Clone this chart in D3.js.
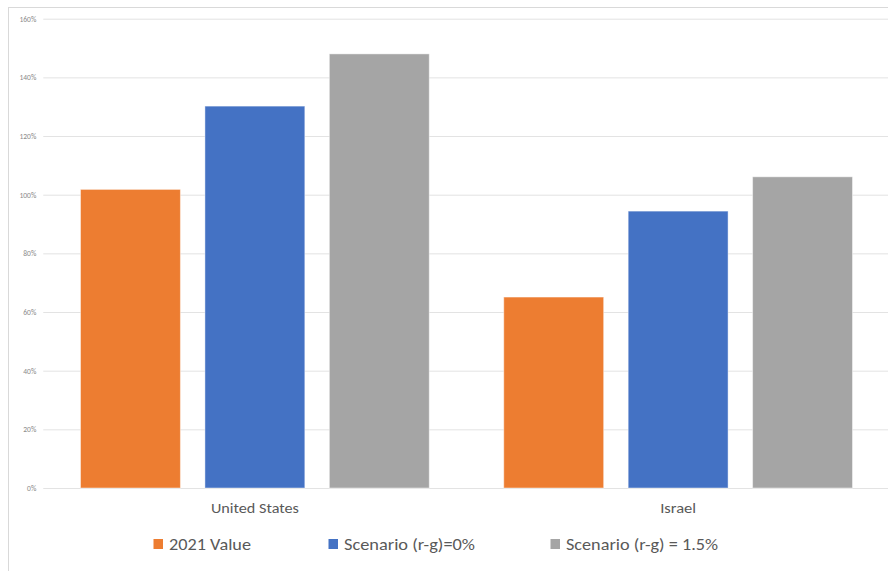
<!DOCTYPE html>
<html>
<head>
<meta charset="utf-8">
<script src="https://cdn.jsdelivr.net/npm/d3@7/dist/d3.min.js"></script>
<style>
  html, body { margin: 0; padding: 0; background: #fff; }
  svg { display: block; }
</style>
</head>
<body>
<svg id="chart" width="888" height="571"></svg>
<script>
// Debt-to-GDP: current value and two projection scenarios
const countries = ["United States", "Israel"];
const seriesNames = ["2021 Value", "Scenario (r-g)=0%", "Scenario (r-g) = 1.5%"];
const seriesColors = ["#ED7D31", "#4472C4", "#A5A5A5"];
const value2021 = [101.8, 65.1];
const scenarioZero = [130.2, 94.4];
const scenarioOneHalf = [148.0, 106.1];
const yTicks = [0, 20, 40, 60, 80, 100, 120, 140, 160];

const seriesValues = [value2021, scenarioZero, scenarioOneHalf];
const rows = [];
countries.forEach((c, ci) => {
  seriesNames.forEach((s, si) => rows.push({ country: c, series: s, si, value: seriesValues[si][ci] }));
});

const svg = d3.select("#chart");
const font = "Calibri, Carlito, Lato, 'Open Sans', 'Liberation Sans', sans-serif";

// chart frame (runs off the right and bottom edges)
svg.append("rect")
  .attr("x", 8.5).attr("y", 7.5)
  .attr("width", 900).attr("height", 600)
  .attr("fill", "#fff").attr("stroke", "#d9d9d9").attr("stroke-width", 1);

const plot = { left: 43.25, right: 889.75, top: 18.7, bottom: 488 };

const x = d3.scaleBand().domain(countries).range([plot.left, plot.right]).paddingInner(0).paddingOuter(0);
const xInner = d3.scaleBand().domain(seriesNames)
  .range([37.25, x.bandwidth() - 37.25]).paddingInner(0.197).paddingOuter(0);
const y = d3.scaleLinear().domain([0, 160]).range([plot.bottom, plot.top]);

// gridlines and tick labels
const yAxis = d3.axisLeft(y).tickValues(yTicks).tickFormat(d => d + "%")
  .tickSize(-(plot.right - plot.left + 10)).tickPadding(7);
const gy = svg.append("g").attr("transform", `translate(${plot.left},0)`).call(yAxis);
gy.select(".domain").remove();
gy.selectAll(".tick line").attr("stroke", "#e3e3e3").attr("stroke-width", 1);
gy.selectAll(".tick text")
  .attr("fill", "#8a8a8a").attr("font-size", 7.5).attr("font-family", font);

// bars
svg.append("g").selectAll("rect").data(rows).join("rect")
  .attr("x", d => x(d.country) + xInner(d.series))
  .attr("y", d => y(d.value))
  .attr("width", xInner.bandwidth())
  .attr("height", d => y(0) - y(d.value))
  .attr("fill", d => seriesColors[d.si])
  .attr("stroke", "#ffffff").attr("stroke-opacity", 0.45).attr("stroke-width", 1);

// category labels
const catWidths = [88, 36];
const xAxis = d3.axisBottom(x).tickSize(0).tickPadding(14);
const gx = svg.append("g").attr("transform", `translate(0,${plot.bottom})`).call(xAxis);
gx.select(".domain").remove();
gx.selectAll(".tick text")
  .attr("fill", "#595959").attr("font-size", 15).attr("font-family", font)
  .attr("textLength", (d, i) => catWidths[i]).attr("lengthAdjust", "spacingAndGlyphs");

// legend
const legendX = [153.5, 328.5, 550.5];
const legendWidths = [82, 131, 152];
const legend = svg.append("g").selectAll("g").data(seriesNames).join("g")
  .attr("transform", (d, i) => `translate(${legendX[i]},544)`);
legend.append("rect")
  .attr("x", 0).attr("y", -5).attr("width", 9.5).attr("height", 10)
  .attr("fill", (d, i) => seriesColors[i]);
legend.append("text")
  .attr("x", 15.5).attr("y", 0).attr("dy", "0.35em")
  .attr("fill", "#595959").attr("font-size", 17).attr("font-family", font)
  .attr("textLength", (d, i) => legendWidths[i]).attr("lengthAdjust", "spacingAndGlyphs")
  .text(d => d);
</script>
</body>
</html>
